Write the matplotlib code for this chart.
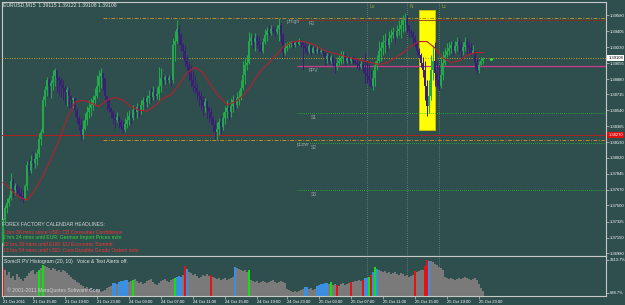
import numpy as np
import matplotlib.pyplot as plt
from matplotlib.patches import Rectangle

plt.rcParams['font.family'] = ['Liberation Sans', 'DejaVu Sans']

#*******************************************************************************
# EURUSD M15 bars

open0 = 1.3709

closes = [1.3734, 1.3747, 1.3753, 1.3758, 1.3777, 1.3767, 1.3771, 1.3767, 1.3764, 1.3760,
          1.3758, 1.3771, 1.3794, 1.3788, 1.3799, 1.3796, 1.3801, 1.3806, 1.3823, 1.3830,
          1.3865, 1.3876, 1.3887, 1.3881, 1.3884, 1.3891, 1.3898, 1.3889, 1.3887, 1.3882,
          1.3878, 1.3874, 1.3876, 1.3870, 1.3865, 1.3867, 1.3854, 1.3845, 1.3838, 1.3827,
          1.3834, 1.3843, 1.3852, 1.3856, 1.3860, 1.3865, 1.3870, 1.3881, 1.3891, 1.3895,
          1.3889, 1.3870, 1.3865, 1.3856, 1.3852, 1.3845, 1.3843, 1.3847, 1.3841, 1.3836,
          1.3832, 1.3839, 1.3843, 1.3848, 1.3845, 1.3854, 1.3852, 1.3858, 1.3854, 1.3860,
          1.3865, 1.3863, 1.3867, 1.3870, 1.3868, 1.3874, 1.3870, 1.3872, 1.3881, 1.3889,
          1.3887, 1.3890, 1.3887, 1.3889, 1.3887, 1.3925, 1.3930, 1.3943, 1.3936, 1.3925,
          1.3919, 1.3908, 1.3903, 1.3895, 1.3887, 1.3881, 1.3878, 1.3874, 1.3870, 1.3865,
          1.3859, 1.3863, 1.3856, 1.3852, 1.3845, 1.3838, 1.3830, 1.3834, 1.3841, 1.3836,
          1.3845, 1.3852, 1.3856, 1.3852, 1.3859, 1.3865, 1.3860, 1.3867, 1.3869, 1.3878,
          1.3892, 1.3903, 1.3906, 1.3930, 1.3933, 1.3928, 1.3933, 1.3930, 1.3925, 1.3919,
          1.3928, 1.3936, 1.3941, 1.3938, 1.3943, 1.3941, 1.3939, 1.3943, 1.3947, 1.3936,
          1.3917, 1.3922, 1.3925, 1.3926, 1.3928, 1.3925, 1.3927, 1.3926, 1.3929, 1.3927,
          1.3925, 1.3922, 1.3919, 1.3924, 1.3917, 1.3922, 1.3919, 1.3920, 1.3918, 1.3919,
          1.3916, 1.3911, 1.3913, 1.3908, 1.3912, 1.3906, 1.3902, 1.3906, 1.3908, 1.3911,
          1.3914, 1.3908, 1.3911, 1.3908, 1.3911, 1.3908, 1.3906, 1.3904, 1.3902, 1.3904,
          1.3900, 1.3895, 1.3891, 1.3887, 1.3881, 1.3889, 1.3903, 1.3908, 1.3919, 1.3922,
          1.3928, 1.3930, 1.3925, 1.3933, 1.3936, 1.3939, 1.3935, 1.3941, 1.3943, 1.3947,
          1.3952, 1.3954, 1.3947, 1.3941, 1.3938, 1.3933, 1.3928, 1.3919, 1.3914, 1.3906,
          1.3898, 1.3881, 1.3859, 1.3870, 1.3898, 1.3908, 1.3895, 1.3887, 1.3881, 1.3892,
          1.3906, 1.3914, 1.3919, 1.3922, 1.3925, 1.3919, 1.3924, 1.3928, 1.3925, 1.3919,
          1.3923, 1.3928, 1.3925, 1.3922, 1.3917, 1.3919, 1.3906, 1.3898, 1.3903, 1.3908,
          1.3911]

highs  = [1.3736, 1.3751, 1.3758, 1.3762, 1.3785, 1.3780, 1.3775, 1.3773, 1.3771, 1.3769,
          1.3767, 1.3773, 1.3799, 1.3801, 1.3805, 1.3810, 1.3808, 1.3812, 1.3829, 1.3834,
          1.3870, 1.3881, 1.3890, 1.3889, 1.3887, 1.3898, 1.3900, 1.3895, 1.3891, 1.3889,
          1.3887, 1.3880, 1.3879, 1.3878, 1.3871, 1.3869, 1.3865, 1.3857, 1.3848, 1.3846,
          1.3843, 1.3851, 1.3859, 1.3865, 1.3867, 1.3871, 1.3878, 1.3892, 1.3898, 1.3900,
          1.3895, 1.3889, 1.3869, 1.3867, 1.3858, 1.3854, 1.3850, 1.3852, 1.3848, 1.3844,
          1.3842, 1.3845, 1.3852, 1.3854, 1.3852, 1.3860, 1.3858, 1.3862, 1.3860, 1.3865,
          1.3868, 1.3869, 1.3871, 1.3876, 1.3878, 1.3880, 1.3878, 1.3879, 1.3901, 1.3900,
          1.3892, 1.3893, 1.3892, 1.3893, 1.3892, 1.3933, 1.3941, 1.3952, 1.3947, 1.3938,
          1.3927, 1.3925, 1.3914, 1.3908, 1.3903, 1.3898, 1.3892, 1.3884, 1.3876, 1.3874,
          1.3870, 1.3867, 1.3865, 1.3859, 1.3856, 1.3848, 1.3843, 1.3841, 1.3845, 1.3848,
          1.3852, 1.3859, 1.3865, 1.3860, 1.3867, 1.3871, 1.3869, 1.3874, 1.3876, 1.3887,
          1.3908, 1.3911, 1.3914, 1.3939, 1.3938, 1.3936, 1.3938, 1.3936, 1.3935, 1.3930,
          1.3933, 1.3943, 1.3945, 1.3947, 1.3947, 1.3946, 1.3945, 1.3947, 1.3955, 1.3950,
          1.3938, 1.3927, 1.3928, 1.3930, 1.3930, 1.3929, 1.3930, 1.3930, 1.3933, 1.3931,
          1.3930, 1.3928, 1.3926, 1.3927, 1.3925, 1.3924, 1.3923, 1.3924, 1.3923, 1.3922,
          1.3919, 1.3919, 1.3917, 1.3916, 1.3914, 1.3913, 1.3911, 1.3912, 1.3914, 1.3919,
          1.3919, 1.3916, 1.3912, 1.3912, 1.3912, 1.3913, 1.3911, 1.3911, 1.3908, 1.3908,
          1.3908, 1.3916, 1.3908, 1.3906, 1.3898, 1.3898, 1.3908, 1.3914, 1.3930, 1.3928,
          1.3936, 1.3938, 1.3935, 1.3941, 1.3943, 1.3945, 1.3941, 1.3947, 1.3952, 1.3954,
          1.3958, 1.3960, 1.3958, 1.3945, 1.3943, 1.3941, 1.3936, 1.3927, 1.3922, 1.3916,
          1.3912, 1.3908, 1.3887, 1.3887, 1.3914, 1.3925, 1.3928, 1.3908, 1.3903, 1.3914,
          1.3919, 1.3922, 1.3927, 1.3928, 1.3930, 1.3928, 1.3930, 1.3934, 1.3933, 1.3930,
          1.3928, 1.3934, 1.3933, 1.3930, 1.3927, 1.3925, 1.3914, 1.3911, 1.3908, 1.3912,
          1.3912]

lows   = [1.3706, 1.3732, 1.3742, 1.3749, 1.3756, 1.3759, 1.3762, 1.3763, 1.3760, 1.3756,
          1.3753, 1.3756, 1.3767, 1.3783, 1.3786, 1.3792, 1.3791, 1.3794, 1.3803, 1.3816,
          1.3829, 1.3859, 1.3870, 1.3869, 1.3867, 1.3876, 1.3880, 1.3874, 1.3871, 1.3869,
          1.3865, 1.3860, 1.3859, 1.3857, 1.3854, 1.3856, 1.3848, 1.3840, 1.3832, 1.3821,
          1.3823, 1.3832, 1.3838, 1.3845, 1.3848, 1.3854, 1.3860, 1.3867, 1.3874, 1.3878,
          1.3876, 1.3865, 1.3854, 1.3852, 1.3845, 1.3839, 1.3835, 1.3841, 1.3835, 1.3832,
          1.3829, 1.3830, 1.3835, 1.3838, 1.3839, 1.3843, 1.3845, 1.3846, 1.3847, 1.3850,
          1.3854, 1.3856, 1.3858, 1.3862, 1.3863, 1.3865, 1.3865, 1.3866, 1.3865, 1.3874,
          1.3882, 1.3883, 1.3884, 1.3884, 1.3881, 1.3884, 1.3908, 1.3927, 1.3925, 1.3919,
          1.3911, 1.3901, 1.3898, 1.3887, 1.3879, 1.3874, 1.3872, 1.3865, 1.3859, 1.3854,
          1.3848, 1.3852, 1.3845, 1.3841, 1.3838, 1.3830, 1.3823, 1.3821, 1.3827, 1.3828,
          1.3832, 1.3839, 1.3845, 1.3843, 1.3847, 1.3852, 1.3854, 1.3856, 1.3860, 1.3865,
          1.3876, 1.3883, 1.3898, 1.3905, 1.3925, 1.3922, 1.3919, 1.3922, 1.3919, 1.3916,
          1.3917, 1.3926, 1.3930, 1.3935, 1.3936, 1.3938, 1.3935, 1.3937, 1.3930, 1.3927,
          1.3912, 1.3914, 1.3919, 1.3922, 1.3923, 1.3922, 1.3923, 1.3924, 1.3925, 1.3923,
          1.3898, 1.3916, 1.3914, 1.3917, 1.3914, 1.3916, 1.3916, 1.3917, 1.3915, 1.3916,
          1.3913, 1.3903, 1.3906, 1.3905, 1.3906, 1.3902, 1.3895, 1.3898, 1.3903, 1.3905,
          1.3906, 1.3903, 1.3906, 1.3905, 1.3906, 1.3905, 1.3904, 1.3900, 1.3898, 1.3900,
          1.3895, 1.3884, 1.3884, 1.3880, 1.3878, 1.3876, 1.3880, 1.3898, 1.3906, 1.3908,
          1.3914, 1.3917, 1.3919, 1.3922, 1.3928, 1.3933, 1.3927, 1.3933, 1.3936, 1.3933,
          1.3939, 1.3941, 1.3938, 1.3934, 1.3934, 1.3925, 1.3923, 1.3914, 1.3911, 1.3901,
          1.3890, 1.3865, 1.3848, 1.3851, 1.3865, 1.3887, 1.3881, 1.3878, 1.3876, 1.3878,
          1.3887, 1.3903, 1.3912, 1.3914, 1.3917, 1.3914, 1.3917, 1.3919, 1.3916, 1.3912,
          1.3914, 1.3919, 1.3914, 1.3917, 1.3914, 1.3916, 1.3898, 1.3894, 1.3895, 1.3903,
          1.3905]

# red moving average, read every 4th bar
ma_step = 4
ma_vals = [1.3775, 1.3767, 1.3759, 1.3756, 1.3767, 1.3783, 1.3801, 1.3821, 1.3845, 1.3863,
           1.3865, 1.3862, 1.3858, 1.3865, 1.3868, 1.3865, 1.3858, 1.3854, 1.3853, 1.3859,
           1.3867, 1.3871, 1.3882, 1.3895, 1.3901, 1.3895, 1.3881, 1.3869, 1.3860, 1.3863,
           1.3870, 1.3881, 1.3895, 1.3904, 1.3913, 1.3923, 1.3928, 1.3930, 1.3928, 1.3925,
           1.3920, 1.3917, 1.3915, 1.3912, 1.3910, 1.3908, 1.3906, 1.3904, 1.3906, 1.3911,
           1.3917, 1.3924, 1.3929, 1.3929, 1.3922, 1.3911, 1.3906, 1.3908, 1.3914, 1.3917,
           1.3917]

# SonicR PV histogram (%)
hist_vals = [2676, 2517, 2120, 2358, 1881, 2040, 1722, 2199, 1961, 1802,
             1643, 1881, 2040, 2279, 2438, 2517, 2199, 2358, 2517, 2676,
             2915, 2835, 2756, 2676, 2517, 2676, 2597, 2438, 2517, 2358,
             2517, 2438, 2279, 2120, 1961, 1802, 1722, 1563, 1484, 1325,
             1245, 1086, 1166, 1007, 1086,  927,  848, 1007,  927,  768,
              848,  927, 1086, 1166, 1245, 1484, 1484, 1404, 1563, 1643,
             1643, 1722, 1722, 1563, 1643, 1722, 1802, 1643, 1484, 1563,
             1404, 1484, 1643, 1722, 1802, 1563, 1404, 1325, 1484, 1643,
             1722, 1802, 1643, 1563, 1722, 1802, 1881, 1961, 2040, 1961,
             2120, 2835, 2597, 2358, 2279, 2120, 2199, 2040, 1881, 1961,
             2120, 2040, 2199, 2040, 2120, 1961, 1881, 1802, 1881, 1722,
             1802, 1881, 1722, 1802, 1881, 1961, 2756, 2676, 2597, 2517,
             2438, 2517, 2358, 2517, 1722, 1643, 1563, 1643, 1484, 1563,
             1643, 1563, 1484, 1563, 1643, 1722, 1563, 1484, 1563, 1643,
             1563, 1484, 1007,  927,  848,  768,  848,  768,  848,  927,
             1007, 1166, 1166, 1007, 1086,  927, 1007, 1245, 1325, 1404,
             1404, 1484, 1484, 1404, 1563, 1325, 1404, 1325, 1245, 1404,
             1484, 1325, 1404, 1484, 1563, 1563, 1643, 1643, 1722, 1643,
             1722, 1881, 1881, 1961, 2120, 2358, 2756, 2597, 2517, 2438,
             2358, 2438, 2279, 2358, 2199, 2279, 2358, 2199, 2120, 2279,
             2199, 2040, 2120, 1961, 2040, 2120, 2438, 2358, 2438, 2517,
             2517, 2835, 3314, 3233, 3233, 3153, 2994, 2915, 2756, 2676,
             2517, 1961, 1881, 1802, 1881, 1802, 1722, 1802, 1881, 1802,
             1881, 1961, 1881, 1802, 1722, 1802, 1881, 1722, 1404, 1086,
              848]
hist_red   = [0, 91, 104, 167, 174, 180, 184, 206, 211, 212]
hist_green = [18, 20, 65, 86, 123, 164, 183, 186]
hist_blue  = [55, 56, 58, 59, 60, 61, 62, 87, 88, 89, 92, 116, 151, 152,
              157, 158, 159, 160, 161, 162, 181, 182, 185, 187, 213]

price_ticks = [1.39580, 1.39405, 1.39230, 1.39055, 1.38880, 1.38715, 1.38540, 1.38365,
               1.38190, 1.38020, 1.37845, 1.37670, 1.37500, 1.37325, 1.37150, 1.36980]
sub_ticks  = [688.7, 3313.7]
sub_labels = ['688.7%', '3313.7%']

time_idx = [0, 15, 31, 47, 63, 79, 95, 111, 127, 142, 158, 174, 190, 206, 222, 238]
time_lbl = ['21 Oct 2011', '21 Oct 15:00', '21 Oct 19:00', '21 Oct 23:00',
            '24 Oct 03:00', '24 Oct 07:00', '24 Oct 11:00', '24 Oct 15:00',
            '24 Oct 19:00', '24 Oct 23:00', '25 Oct 03:00', '25 Oct 07:00',
            '25 Oct 11:00', '25 Oct 15:00', '25 Oct 19:00', '25 Oct 23:00']

# pivot / session objects
lvl_phigh, lvl_plow = 1.3955, 1.3821
lvl_r1, lvl_fpv     = 1.3953, 1.3902
lvl_s1, lvl_s2, lvl_s3 = 1.3851, 1.3818, 1.3767
lvl_bid, lvl_red    = 1.3911, 1.3827
prev_start, piv_start = 50, 147
sess_idx = [182, 202, 218]
sess_lbl = ['Lo', 'N', 'Lc']
box_bars  = [208, 216]
box_price = [1.3832, 1.3963]
dot_bar, dot_price = 244, 1.3910

news_head  = 'FOREX FACTORY CALENDAR HEADLINES:'
news_lines = ['1 hrs 36 mins since USD: CB Consumer Confidence',
              '2 hrs 24 mins until EUR: German Import Prices m/m',
              '12 hrs 39 mins until EUR: EU Economic Summit',
              '13 hrs 54 mins until USD: Core Durable Goods Orders m/m']
news_cols  = ['#f03232', '#3cd23c', '#f03232', '#f03232']

#*******************************************************************************

BG  = '#2f4f4f'
FG  = '#c8c8c8'
W, H = 625., 305.

fig01 = plt.figure(figsize=(6.25, 3.05), dpi=100, facecolor=BG)
axs01 = fig01.add_axes([2/W, 1-255.5/H, 604/W, 253.5/H])
axs02 = fig01.add_axes([2/W, 1-296/H, 604/W, 40/H])

XMAX = 301.5
for ax in (axs01, axs02):
  ax.set_facecolor(BG)
  ax.set_xlim(-0.5, XMAX)
  for sp in ax.spines.values():
    sp.set_color(FG)
    sp.set_linewidth(0.8)

axs01.set_ylim(1.36954, 1.39722)

# candles
c  = np.array(closes)
o  = np.r_[open0, c[:-1]]
hi = np.maximum(np.array(highs), np.maximum(o, c))
lo = np.minimum(np.array(lows),  np.minimum(o, c))
xs = np.arange(len(c))
col = np.where(c >= o, '#23a84b', '#3b1f74')
axs01.vlines(xs, lo, hi, colors=col, lw=0.75, zorder=4)
axs01.bar(xs, np.maximum(np.abs(c-o), 0.00008), bottom=np.minimum(o, c),
          width=0.9, color=col, lw=0, zorder=4)

axs01.plot(np.arange(len(ma_vals))*ma_step, ma_vals, color='#b4202c', lw=0.8, zorder=5)

# levels
axs01.axhline(lvl_bid, color='#c8a028', lw=0.7, ls=(0, (1, 1.5)), zorder=3)
axs01.axhline(lvl_red, color='#b42020', lw=0.7, zorder=3)
axs01.hlines([lvl_phigh, lvl_plow], prev_start, XMAX, color='#c08a28', lw=0.7,
             ls=(0, (4, 1.5, 1, 1.5)), zorder=3)
axs01.hlines(lvl_r1, piv_start, XMAX, color='#8c3020', lw=0.6, zorder=3)
axs01.hlines(lvl_fpv, piv_start, XMAX, color='#d03c8c', lw=0.9, zorder=3)
axs01.hlines([lvl_s1, lvl_s2, lvl_s3], piv_start, XMAX, color='#28c028', lw=0.6,
             ls=(0, (1, 1.5)), zorder=3)

for txt, xb, yv in [('pHigh', 142, lvl_phigh), ('R1', 153, lvl_r1), ('FPV', 153, lvl_fpv),
                    ('S1', 154, lvl_s1), ('pLow', 147, lvl_plow), ('S2', 154, lvl_s2),
                    ('S3', 154, lvl_s3)]:
  axs01.annotate(txt, (xb, yv), xytext=(0, -1.2), textcoords='offset points',
                 fontsize=3.6, color='#9aa4a4', va='top', ha='left', zorder=3)

axs01.add_patch(Rectangle((box_bars[0], box_price[0]), box_bars[1]-box_bars[0],
                          box_price[1]-box_price[0], fc='#ffff00', ec='#e0c800',
                          lw=0.5, zorder=2))

for ax in (axs01, axs02):
  for xi in sess_idx:
    ax.axvline(xi, color='#8c9c9c', lw=0.5, ls=(0, (1, 2)), zorder=1)
for xi, s in zip(sess_idx, sess_lbl):
  axs01.text(xi+1.5, 0.993, s, transform=axs01.get_xaxis_transform(), fontsize=3.4,
             color='#a0a040', va='top', ha='left')

axs01.plot(dot_bar, dot_price, 'o', ms=2.2, color='#30e030', mec='none', zorder=6,
           clip_on=False)

# price scale
axs01.set_xticks([])
axs01.yaxis.tick_right()
axs01.set_yticks(price_ticks)
axs01.set_yticklabels(['%.5f' % v for v in price_ticks])
axs01.tick_params(axis='y', direction='out', length=2, width=0.5, colors=FG,
                  labelcolor='white', labelsize=3, pad=1)
axs01.text(1.004, lvl_bid, '%.5f' % 1.39108, transform=axs01.get_yaxis_transform(),
           fontsize=3, color='black', va='center', ha='left', clip_on=False,
           bbox=dict(fc='white', ec='none', pad=0.7))
axs01.text(1.004, lvl_red, '%.5f' % 1.38270, transform=axs01.get_yaxis_transform(),
           fontsize=3, color='white', va='center', ha='left', clip_on=False,
           bbox=dict(fc='#e01010', ec='none', pad=0.7))

# histogram
hcol = ['#7a7a7a'] * len(hist_vals)
for i in hist_red:   hcol[i] = '#e01414'
for i in hist_green: hcol[i] = '#10e010'
for i in hist_blue:  hcol[i] = '#3c8ee0'
axs02.bar(np.arange(len(hist_vals)), hist_vals, width=0.55, color=hcol, lw=0, zorder=2)
axs02.set_ylim(450, 3630)
axs02.yaxis.tick_right()
axs02.set_yticks(sub_ticks)
axs02.set_yticklabels(sub_labels)
axs02.set_xticks(time_idx)
axs02.set_xticklabels(time_lbl)
for lb in axs02.get_xticklabels():
  lb.set_ha('left')
axs02.tick_params(direction='out', length=2, width=0.5, colors=FG, labelcolor='white',
                  labelsize=3, pad=0.8)

# texts
def ftext(x, y, s, col, fs=3.7):
  fig01.text(x/W, 1-y/H, s, fontsize=fs, color=col, va='center', ha='left')

ftext(3, 5, 'EURUSD,M15  1.39115 1.39122 1.39108 1.39108', '#e0e0e0')
ftext(2, 224, news_head, '#d0d0d0')
for k, (s, cc) in enumerate(zip(news_lines, news_cols)):
  ftext(3, 232 + 6*k, s, cc)
ftext(4, 261, 'SonicR PV Histogram (20, 10)   Voice & Text Alerts off.', '#e0e0e0')
ftext(7, 290.5, '\u00a9 2001-2011 MetaQuotes Software Corp.', '#d0d0d0')

plt.savefig('out.png', dpi=100, facecolor=BG)
plt.close()
